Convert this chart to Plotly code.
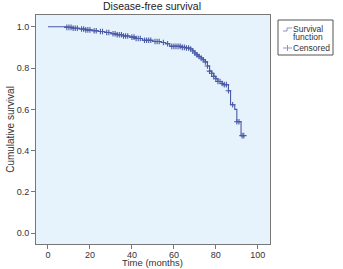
import numpy as np
import plotly.graph_objects as go

# Kaplan-Meier step function (event times and survival after each step)
step_times = [0, 9, 12, 15, 18, 21, 24, 27, 30, 33, 36, 39, 42, 45, 50, 54, 56, 58,
              64, 66, 68, 69, 70, 71, 72, 73, 74, 75, 76, 77, 78, 79, 80, 81, 83,
              84, 86, 87, 89, 90, 92, 93.8]
step_surv = [1.0, 0.997, 0.993, 0.989, 0.985, 0.981, 0.977, 0.972, 0.966, 0.961,
             0.955, 0.950, 0.943, 0.935, 0.929, 0.924, 0.918, 0.905, 0.900, 0.897,
             0.892, 0.883, 0.873, 0.864, 0.856, 0.849, 0.840, 0.830, 0.810, 0.785,
             0.775, 0.760, 0.748, 0.735, 0.725, 0.720, 0.690, 0.622, 0.600, 0.540,
             0.473, 0.473]

# censored observation times
censor_times = [9, 10, 11, 12, 13, 14, 16, 17, 18, 19, 20, 22, 23, 25, 26, 28, 29,
                31, 32, 33, 34, 35, 36, 37, 38, 40, 41, 42, 43, 44, 46, 47, 48, 49,
                51, 52, 53, 55, 57, 59, 60, 61, 62, 63, 64, 65, 66, 67, 68, 69, 70,
                71, 72, 73, 74, 75, 76, 77, 78, 79, 80, 81, 82, 83, 84, 85, 86, 88,
                90, 91, 92.5, 93.3]

legend_lines = ["Survival", "function", "Censored"]

st = np.array(step_times)
ss = np.array(step_surv)
idx = np.searchsorted(st, np.array(censor_times), side="right") - 1
censor_surv = ss[idx]

W, H = 343, 269
ML, MR, MT, MB = 36, 73, 15, 25
PW, PH = W - ML - MR, H - MT - MB


def px(x):
    return (x - ML) / PW


def py(y):
    return (H - MB - y) / PH


col = "#4a5aa6"
sym = "#8a93c4"
fig = go.Figure()
fig.add_trace(go.Scatter(x=step_times, y=step_surv, mode="lines", line_shape="hv",
                         line=dict(color=col, width=1.1), showlegend=False))
fig.add_trace(go.Scatter(x=censor_times, y=censor_surv, mode="markers",
                         marker=dict(symbol="cross-thin", size=4,
                                     line=dict(color=col, width=1.1)),
                         showlegend=False))

shapes = [
    dict(type="rect", xref="paper", yref="paper", x0=px(278), x1=px(333),
         y0=py(55), y1=py(20), line=dict(color="#555", width=1), fillcolor="white"),
    dict(type="path", xref="paper", yref="paper",
         path=f"M {px(283)} {py(31)} L {px(287)} {py(31)} L {px(287)} {py(28)} L {px(292)} {py(28)}",
         line=dict(color=sym, width=1)),
    dict(type="line", xref="paper", yref="paper", x0=px(283), x1=px(292),
         y0=py(48), y1=py(48), line=dict(color=sym, width=1)),
    dict(type="line", xref="paper", yref="paper", x0=px(287.5), x1=px(287.5),
         y0=py(45), y1=py(51), line=dict(color=sym, width=1)),
]

lg_font = dict(size=8.5, color="#333")
annotations = [
    dict(text=legend_lines[0], xref="paper", yref="paper", x=px(292), y=py(29),
         xanchor="left", yanchor="middle", showarrow=False, font=lg_font, borderpad=0),
    dict(text=legend_lines[1], xref="paper", yref="paper", x=px(292), y=py(37.5),
         xanchor="left", yanchor="middle", showarrow=False, font=lg_font, borderpad=0),
    dict(text=legend_lines[2], xref="paper", yref="paper", x=px(292), y=py(48),
         xanchor="left", yanchor="middle", showarrow=False, font=lg_font, borderpad=0),
    dict(text="Time (months)", xref="paper", yref="paper", x=px(152), y=py(269),
         xanchor="center", yanchor="bottom", showarrow=False, borderpad=0,
         font=dict(size=9.5, color="#333")),
]

fig.update_layout(
    width=W, height=H,
    margin=dict(l=ML, r=MR, t=MT, b=MB, autoexpand=False),
    paper_bgcolor="white",
    plot_bgcolor="#e6f3fc",
    font=dict(family="Liberation Sans, Arial, sans-serif", size=9, color="#333"),
    title=dict(text="Disease-free survival", x=px(152), xref="paper",
               xanchor="center", y=0.99, yanchor="top",
               font=dict(size=10.5, color="#222")),
    showlegend=False,
    shapes=shapes,
    annotations=annotations,
)
fig.update_xaxes(range=[-5.7, 105.8], tickvals=[0, 20, 40, 60, 80, 100],
                 showgrid=False, zeroline=False, showline=True, linecolor="#777",
                 linewidth=1, mirror=True, ticks="outside", ticklen=4,
                 tickcolor="#777", ticklabelstandoff=-2)
fig.update_yaxes(range=[-0.052, 1.057], tickvals=[0, 0.2, 0.4, 0.6, 0.8, 1.0],
                 tickformat=".1f", showgrid=False, zeroline=False, showline=True,
                 linecolor="#777", linewidth=1, mirror=True, ticks="outside",
                 ticklen=4, tickcolor="#777",
                 title=dict(text="Cumulative survival", standoff=0, font=dict(size=10)))

fig.write_html("out.html")
